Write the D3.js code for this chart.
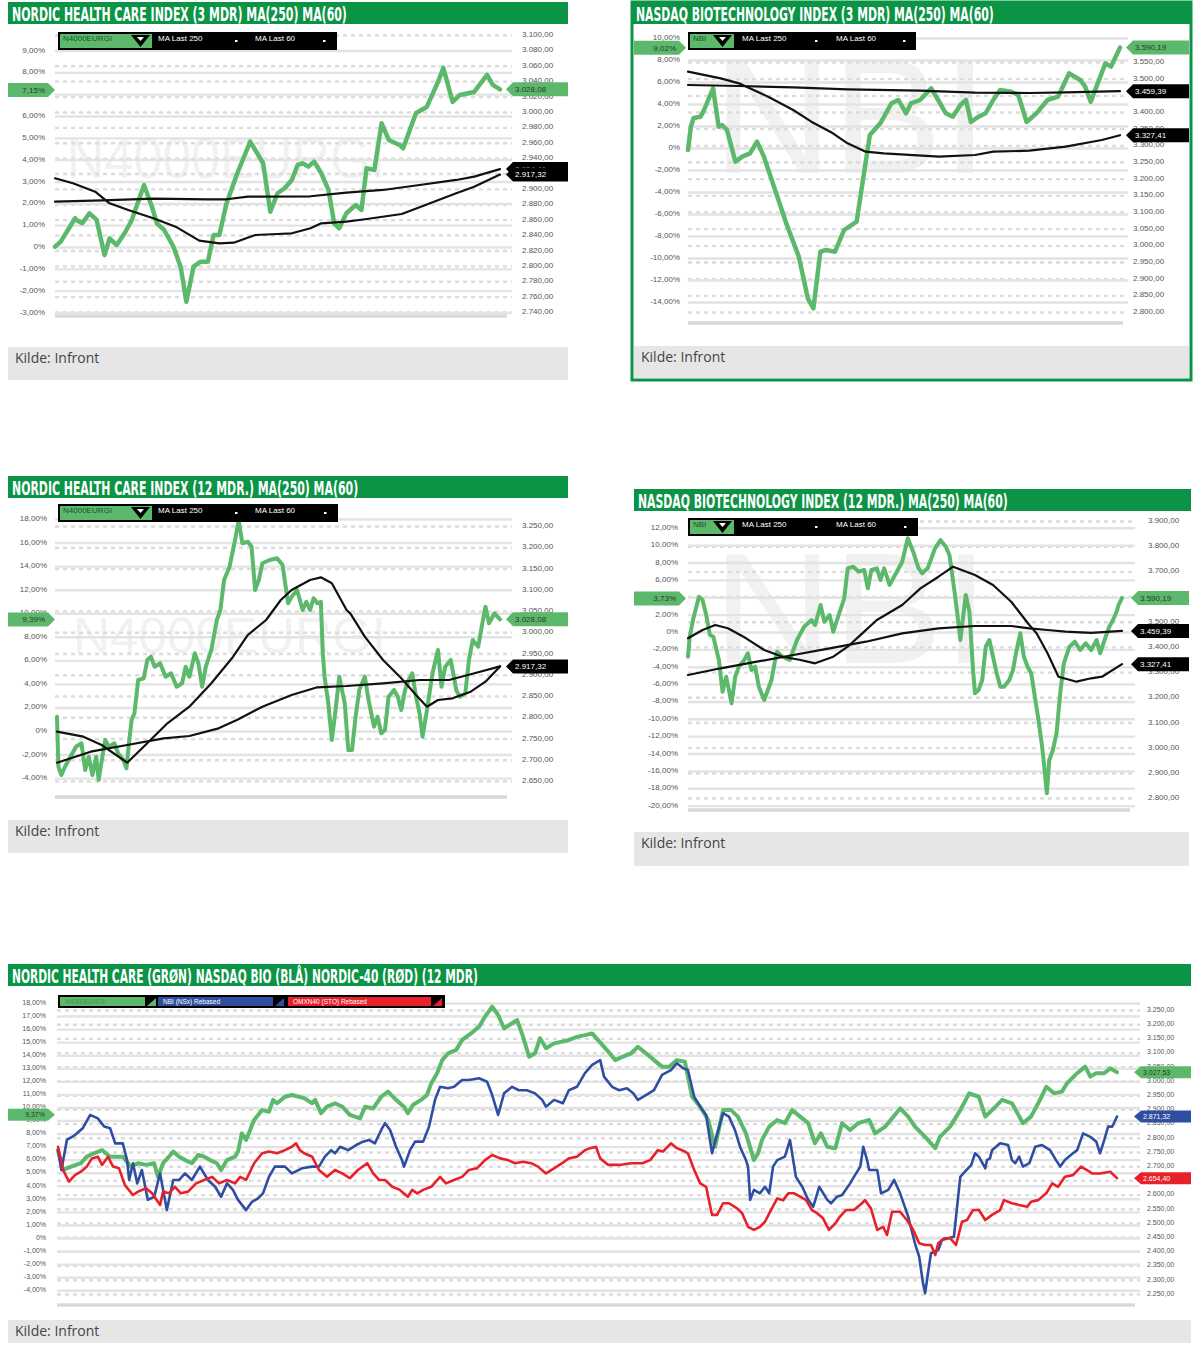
<!DOCTYPE html>
<meta charset="utf-8">
<style>
body{margin:0;background:#fff;}
text{font-family:"Liberation Sans",Arial,sans-serif;}
.title{font-family:"DejaVu Sans Condensed","DejaVu Sans",sans-serif;font-weight:bold;fill:#fff;font-size:20px;}
.kilde{font-family:"Open Sans",sans-serif;font-size:14px;fill:#444;}
</style>
<body>
<script src="https://d3js.org/d3.v7.min.js"></script>
<script>

// ---- Nordic Health Care, 3 mdr ([handelsdag, kurs]) ----
var nhc3mIndex=[[0,2823.6],[0.8,2830.1],[1.8,2845.3],[2.8,2860.5],[3,2858.3],[3.8,2854],[4.8,2867],[5.8,2858.3],[6.9,2812.8],[7.6,2834.5],[8.6,2825.8],[9.7,2841],[10.7,2858.3],[12.4,2903.8],[13.5,2875.6],[14.2,2854],[15.2,2845.3],[16.5,2823.6],[17.5,2797.6],[18.3,2752.1],[19.3,2797.6],[20.3,2804.1],[21.3,2804.1],[22.1,2838.8],[22.9,2838.8],[23.9,2880],[25.4,2919],[27.2,2960.1],[29,2932],[30,2869.1],[31,2893],[32,2899.5],[33,2910.3],[33.8,2929.8],[34.5,2932],[35.3,2927.6],[36.1,2934.1],[37.1,2919],[38.1,2897.3],[38.9,2854],[39.6,2847.5],[40.6,2867],[41.9,2877.8],[42.7,2871.3],[43.4,2925.5],[44.5,2923.3],[45.5,2984],[46.5,2962.3],[48,2955.8],[48.5,2951.5],[50.3,2997.4],[51.8,3005.2],[53.3,3036.4],[54.1,3055.9],[55.4,3011.7],[56.4,3020.8],[58.4,3024.7],[60.2,3046.8],[61,3033.8],[62,3028.08]];
var nhc3mMa250=[[0,2882.1],[6.6,2883.9],[13.7,2886],[21.3,2885.2],[23.9,2885.2],[26.9,2888.6],[35.6,2889.1],[40.6,2893.8],[45.7,2897.3],[50.8,2903.8],[55.9,2910.3],[58.4,2914.6],[62,2924.41]];
var nhc3mMa60=[[0,2912.5],[2.5,2906],[5.6,2895.1],[7.6,2880],[10.2,2871.3],[13.7,2860.5],[16.8,2849.6],[20.1,2831.4],[22.9,2828],[24.9,2828.8],[27.9,2838.8],[31,2840.1],[33,2841],[35.6,2847.5],[37.1,2854],[40.6,2856.1],[43.2,2859.2],[48.3,2866.1],[50.8,2874.8],[55.9,2893],[58.4,2901.6],[62,2917.32]];
var nhc3mPctTicks=[-3,-2,-1,0,1,2,3,4,5,6,7,8,9];
var nhc3mKursTicks=[2740,2760,2780,2800,2820,2840,2860,2880,2900,2920,2940,2960,2980,3000,3020,3040,3060,3080,3100];
var nhc3mLastPct=[7.15];
var nhc3mLastKurs=[3028.08,2924.41,2917.32];

// ---- Nasdaq Biotechnology, 3 mdr ----
var nbi3mIndex=[[0,3283],[0.4,3352],[0.8,3379],[1.8,3383],[2.3,3403],[3.6,3468],[4.4,3353],[4.9,3358],[5.6,3343],[6.8,3248],[7.8,3263],[8.9,3273],[9.9,3308],[10.9,3263],[12.5,3163],[14.1,3063],[15.9,2963],[17.2,2838],[18,2808],[19,2978],[19.8,2983],[21.1,2978],[22.4,3043],[24.2,3068],[25,3178],[26.1,3328],[27.6,3363],[29.2,3423],[30.2,3433],[31.3,3393],[32,3423],[33.3,3433],[34.9,3468],[35.9,3433],[37,3393],[38,3383],[39.1,3418],[39.9,3433],[40.6,3367],[41.7,3383],[42.7,3393],[43.8,3433],[44.8,3463],[46.4,3458],[47.4,3448],[48.6,3367],[50,3393],[51.6,3433],[53.1,3443],[54.7,3513],[56.3,3493],[57,3473],[57.8,3428],[58.9,3488],[59.9,3543],[60.7,3533],[62,3590.19]];
var nbi3mMa250=[[0,3478],[7.3,3475],[15.1,3471],[22.9,3465],[33.3,3461],[41.2,3455],[49,3454],[54.2,3456],[62,3459.39]];
var nbi3mMa60=[[0,3518],[4.7,3498],[7.3,3483],[11.5,3443],[15.1,3403],[17.7,3368],[20.8,3333],[22.9,3303],[25.5,3278],[28.1,3273],[36,3263],[41.2,3268],[43.8,3278],[49,3281],[54.2,3293],[59.4,3313],[62,3327.41]];
var nbi3mPctTicks=[-14,-12,-10,-8,-6,-4,-2,0,2,4,6,8,10];
var nbi3mKursTicks=[2800,2850,2900,2950,3000,3050,3100,3150,3200,3250,3300,3350,3400,3450,3500,3550];
var nbi3mLastPct=[9.02];
var nbi3mLastKurs=[3590.19,3459.39,3327.41];

// ---- Nordic Health Care, 12 mdr ----
var nhc12mIndex=[[0,2798.9],[0.8,2681.3],[2.5,2661.8],[4.5,2681.3],[7.6,2704.8],[10.7,2728.4],[13.8,2736.4],[15.9,2673.5],[17.9,2704.8],[20,2661.8],[22.1,2704.8],[23.5,2650],[26.2,2720.6],[27.2,2744.1],[29.3,2728.4],[32.4,2736.4],[34.5,2712.8],[37.5,2697.1],[39.2,2677.5],[40.6,2736.4],[42.1,2791.2],[43.7,2806.9],[45.8,2885.3],[48.9,2889.3],[51,2932.4],[53,2940.1],[55.1,2916.6],[58.2,2924.6],[61.3,2893.1],[64.4,2901.1],[67.5,2869.5],[70.6,2877.5],[72.6,2916.6],[74.7,2893.1],[77.8,2948.1],[79.8,2924.6],[81.9,2869.5],[84,2916.6],[87.1,2955.9],[90.2,3026.5],[92.2,3050],[94.3,3120.6],[97.4,3151.9],[100.5,3214.7],[102.5,3261.8],[104.6,3207],[107.7,3210.7],[109.8,3198.9],[111.8,3097.1],[113.9,3120.6],[115.9,3159.9],[120.1,3167.7],[124.2,3171.7],[127.3,3155.9],[130.4,3065.8],[132.4,3081.3],[135.5,3097.1],[138.6,3050],[140.7,3069.5],[142.8,3050],[144.8,3077.5],[146.9,3065.8],[148.9,3069.5],[150,2948.1],[151,2893.1],[153.1,2830.5],[155.1,2744.1],[157.2,2814.7],[159.3,2893.1],[162.4,2830.5],[164.4,2720.6],[166.5,2720.6],[168.5,2798.9],[170.6,2861.8],[173.7,2893.1],[175.8,2838.2],[178.9,2775.4],[180.9,2798.9],[183,2759.9],[185.1,2767.7],[187.1,2846],[190.2,2861.8],[192.3,2846],[194.3,2814.7],[196.4,2861.8],[198.5,2885.3],[200.5,2901.1],[202.6,2846],[204.6,2806.9],[206.3,2751.9],[208.8,2814.7],[211.9,2901.1],[215,2955.9],[217,2869.5],[219.1,2916.6],[222.2,2932.4],[225.3,2861.8],[227.3,2846],[230.4,2854],[232.5,2932.4],[234.6,2979.4],[237.7,2963.7],[239.7,3010.7],[241.8,3057.8],[243.8,3018.7],[246.9,3042.2],[250,3028.08]];
var nhc12mMa250=[[0,2690.7],[19,2716.6],[39.6,2732.4],[60.2,2748.1],[74.7,2753.5],[91.2,2771.6],[101.5,2791.2],[115.9,2822.5],[132.4,2850],[146.9,2868.1],[163.4,2871.2],[184,2877.5],[204.6,2885.3],[221.2,2885.3],[235.6,2901.1],[250,2917.32]];
var nhc12mMa60=[[0,2763.7],[14.9,2751.9],[25.2,2732.4],[39.6,2690.7],[49.9,2732.4],[62.3,2783.4],[74.7,2822.5],[87.1,2877.5],[99.4,2940.1],[107.7,2991.2],[118,3026.5],[126.3,3073.5],[132.4,3097.1],[142.8,3120.6],[148.9,3126.9],[155.1,3112.8],[163.4,3050],[165.5,3042.2],[173.7,2987.2],[184,2932.4],[194.3,2889.3],[202.6,2850],[208.8,2822.5],[215,2838.2],[223.2,2842.2],[233.5,2857.8],[241.8,2881.3],[250,2917.32]];
var nhc12mPctTicks=[-4,-2,0,2,4,6,8,10,12,14,16,18];
var nhc12mKursTicks=[2650,2700,2750,2800,2850,2900,2950,3000,3050,3100,3150,3200,3250];
var nhc12mLastPct=[9.39];
var nhc12mLastKurs=[3028.08,2917.32];

// ---- Nasdaq Biotechnology, 12 mdr ----
var nbi12mIndex=[[0,3357.1],[1,3436.6],[3.1,3509.6],[6.3,3595.4],[8.4,3582.3],[10.5,3522.7],[12.6,3443.3],[14.6,3436.6],[17.8,3344],[19.9,3218.1],[22,3277.7],[25.1,3172.1],[27.2,3277.7],[29.3,3317.4],[32.4,3344],[34.5,3370.6],[36.6,3304.3],[38.7,3317.4],[40.8,3238],[43.9,3185.2],[46,3224.9],[48.1,3264.6],[50.2,3344],[51.3,3377],[54.4,3357.1],[58.6,3344],[62.8,3423.4],[66.9,3476.3],[71.1,3502.9],[73.2,3483],[76.4,3562.4],[78.5,3496.1],[81.6,3522.7],[83.7,3456.4],[86.8,3522.7],[90,3589],[92,3708.2],[95.2,3714.5],[98.3,3694.7],[101.5,3701.4],[103.6,3628.7],[105.6,3701.4],[108.8,3708.2],[110.9,3661.7],[113,3708.2],[116.1,3641.9],[120.3,3694.7],[123.4,3734.4],[126.6,3827.3],[129.7,3774.1],[132.8,3708.2],[134.9,3688.3],[138.1,3708.2],[142.3,3787.6],[145.4,3820.5],[148.5,3793.9],[150.6,3761],[153.8,3602.1],[155.9,3483],[156.9,3423.4],[160,3602.1],[162.1,3535.8],[164.2,3304.3],[165.3,3211.8],[167.4,3224.9],[169.5,3264.6],[171.5,3396.8],[173.6,3423.4],[175.7,3357.1],[177.8,3291.2],[179.9,3238],[182,3238],[185.1,3264.6],[187.2,3304.3],[189.3,3383.7],[191.4,3450],[193.5,3357.1],[195.6,3317.4],[197.7,3291.2],[199.8,3198.3],[201.9,3105.8],[204,2999.7],[205.4,2907.2],[206.7,2814.7],[208.1,2946.9],[210.2,2986.6],[212.3,3053],[214.4,3211.8],[216.5,3330.9],[219.7,3396.8],[222.8,3416.7],[225.9,3383.7],[229.1,3410.3],[232.2,3383.7],[235.4,3423.4],[237.4,3370.6],[240.6,3436.6],[242.7,3476.3],[244.8,3502.9],[246.9,3535.8],[248,3562.4],[250,3590.19]];
var nbi12mMa250=[[0,3284.5],[18.8,3311.1],[39.7,3337.3],[60.7,3363.9],[81.6,3390.5],[102.5,3416.7],[123.4,3450],[144.3,3469.9],[165.3,3479],[186.2,3479],[196.6,3469.9],[207.1,3463.2],[217.6,3456.4],[232.2,3452],[250,3459.39]];
var nbi12mMa60=[[0,3430.2],[8.4,3463.2],[15.7,3483],[23,3469.9],[33.5,3430.2],[43.9,3383.7],[54.4,3357.1],[64.9,3344],[73.2,3330.9],[83.7,3357.1],[92,3396.8],[100.4,3450],[108.8,3502.9],[123.4,3562.4],[133.9,3628.7],[144.3,3674.8],[152.7,3714.5],[165.3,3681.6],[175.7,3641.9],[186.2,3575.5],[196.6,3483],[200.8,3450],[207.1,3370.6],[213.4,3277.7],[223.8,3257.9],[232.2,3271.4],[238.5,3277.7],[250,3327.41]];
var nbi12mPctTicks=[-20,-18,-16,-14,-12,-10,-8,-6,-4,-2,0,2,4,6,8,10,12];
var nbi12mKursTicks=[2800,2900,3000,3100,3200,3300,3400,3500,3600,3700,3800,3900];
var nbi12mLastPct=[3.73];
var nbi12mLastKurs=[3590.19,3459.39,3327.41];

// ---- Sammenligning 12 mdr (rebased) ----
var cmpNhc=[[0,2753],[1.2,2683],[3.1,2695],[5.4,2707],[6.8,2730],[8.5,2742],[10.4,2753],[12.3,2730],[13.5,2730],[15.3,2730],[17.2,2695],[18.9,2707],[20.8,2701],[22.7,2707],[23.6,2659],[24.8,2707],[26.2,2730],[27.2,2748],[28.6,2730],[30,2718],[31.6,2707],[33.1,2736],[34.5,2730],[35.9,2718],[37.5,2707],[38.5,2683],[39.9,2718],[41.8,2730],[42.5,2748],[43.4,2812],[44.4,2789],[46.3,2859],[48.2,2894],[49.8,2888],[50.8,2930],[51.7,2918],[53.6,2941],[55.2,2947],[58.1,2936],[60,2918],[60.7,2930],[62.1,2883],[63.5,2906],[65.4,2918],[67.1,2906],[68.9,2877],[71.3,2865],[72.5,2906],[74.4,2900],[76.3,2941],[77.9,2959],[79.8,2930],[81.7,2906],[82.6,2883],[83.8,2912],[85.7,2930],[87.1,2947],[88.1,2988],[89.5,3024],[90.7,3070],[92.1,3094],[94,3106],[95.4,3141],[97.5,3164],[99.4,3188],[100.8,3223],[102.5,3258],[103.9,3229],[105.3,3182],[107.2,3200],[108.4,3211],[109.8,3152],[111.2,3082],[112.6,3094],[113.8,3147],[115.2,3112],[117.1,3129],[119,3135],[120.6,3141],[122.5,3152],[124.4,3158],[126.1,3164],[129.9,3100],[131.5,3070],[133.4,3082],[135.3,3094],[136.9,3117],[138.8,3094],[140.7,3070],[142.6,3047],[144.3,3047],[146.1,3070],[148,3064],[149.7,2941],[151.6,2906],[153.5,2859],[155.1,2765],[157,2894],[158.9,2894],[160.5,2871],[162.4,2812],[164.3,2718],[165.3,2743],[166.2,2789],[167.9,2836],[169.8,2859],[171.6,2848],[173.3,2894],[175.2,2871],[177.1,2848],[178.7,2777],[180.1,2812],[181.6,2765],[183.5,2760],[185.1,2848],[187,2824],[188.9,2848],[191.5,2859],[192.9,2812],[195.3,2836],[197.2,2871],[198.8,2900],[200.7,2871],[202.3,2836],[204.7,2800],[207.1,2760],[208.2,2800],[210.6,2836],[213,2894],[215.1,2953],[217.4,2941],[218.9,2871],[220.5,2894],[222.9,2930],[225.2,2918],[227.8,2848],[229.7,2871],[231.4,2918],[233.3,2976],[235.2,2953],[237,2959],[238.2,2988],[240.6,3024],[242.5,3047],[243.7,3012],[245.1,3024],[247,3024],[248.4,3041],[250,3027.53]];
var cmpNbi=[[0,2753],[0.8,2683],[2.1,2789],[4,2806],[5.9,2831],[7.6,2877],[9.4,2865],[10.9,2836],[12.3,2830],[13.5,2777],[15.3,2777],[16.3,2718],[16.8,2648],[17.7,2707],[18.7,2636],[19.8,2683],[21.2,2578],[22.7,2589],[24.1,2671],[25.7,2542],[27.2,2648],[28.6,2648],[30,2671],[31.6,2648],[33.5,2695],[35.4,2648],[37.1,2624],[38.5,2589],[39.9,2636],[41.3,2613],[42.5,2578],[44.4,2542],[45.8,2571],[47.2,2583],[48.4,2601],[49.8,2659],[51.2,2695],[53.6,2695],[55.2,2671],[57.6,2689],[60,2695],[61.6,2695],[63,2730],[64.5,2753],[65.4,2742],[66.6,2765],[68.5,2753],[70.4,2771],[72,2783],[73.4,2789],[74.8,2777],[76.3,2824],[77.2,2848],[78.4,2824],[79.8,2765],[81.2,2718],[81.7,2695],[83.1,2753],[84.3,2783],[86.2,2783],[87.6,2836],[89,2930],[90.2,2976],[92.1,2971],[93.5,2976],[95.4,3000],[97,3000],[99.4,3006],[101.3,2994],[102.5,2947],[103.9,2877],[105.3,2953],[107.2,2976],[108.8,2964],[110.7,2964],[112.6,2953],[114.3,2930],[115.2,2906],[117.1,2930],[119.2,2918],[120.6,2964],[122.5,2976],[124.4,3024],[126.1,3053],[128,3070],[128.9,3012],[130.8,2976],[132.5,2964],[134.3,2971],[135.8,2953],[136.9,2930],[138.8,2947],[140.7,2964],[142.6,3018],[144.7,3035],[146.1,3059],[147.6,3041],[148.7,3035],[150.2,2941],[151.6,2906],[153,2877],[154.4,2742],[155.1,2783],[157,2883],[158.4,2871],[159.8,2824],[161,2765],[162.4,2718],[162.9,2695],[163.4,2578],[164.3,2613],[165.7,2601],[166.9,2624],[167.9,2601],[168.8,2695],[169.8,2718],[171.6,2730],[172.8,2789],[174.2,2659],[175.7,2624],[177.1,2578],[178.3,2554],[179.7,2624],[181.6,2578],[182.5,2566],[183.9,2589],[185.1,2595],[187,2636],[187.9,2659],[189.4,2695],[190.1,2765],[191,2718],[191.5,2683],[193.4,2683],[194.3,2601],[196,2613],[197.4,2648],[198.8,2601],[200.7,2519],[202.3,2425],[203.3,2378],[204.2,2284],[204.7,2249],[205.6,2343],[206.1,2390],[207.8,2401],[208.7,2437],[210.1,2443],[211.5,2448],[213,2659],[214.1,2677],[215.6,2701],[216.5,2742],[217.4,2730],[218.9,2689],[219.3,2718],[220,2724],[220.5,2753],[222.4,2777],[224.3,2771],[225.2,2718],[226,2707],[226.9,2730],[227.8,2695],[229.3,2707],[230.7,2765],[232.3,2771],[234.2,2753],[235.6,2718],[236.6,2695],[237.7,2718],[239.6,2742],[240.6,2753],[242,2812],[243.7,2800],[245.1,2783],[246,2742],[247,2789],[247.9,2836],[248.9,2836],[250,2871.32]];
var cmpOmx=[[0,2765],[1.2,2683],[2.6,2642],[4,2665],[5.4,2677],[6.8,2695],[8,2724],[9.4,2730],[10.4,2701],[11.8,2730],[13,2695],[14.4,2689],[15.8,2630],[17.7,2595],[18.9,2607],[20.8,2619],[22.2,2601],[24.1,2560],[24.8,2607],[26.2,2601],[27.6,2624],[29,2601],[30.7,2607],[32.6,2636],[34.5,2648],[36.4,2659],[38,2636],[39.9,2648],[41.8,2636],[43,2659],[44.4,2648],[46.3,2707],[48.2,2742],[49.8,2748],[51.7,2742],[53.6,2753],[55.2,2765],[56.2,2777],[57.1,2753],[58.1,2742],[60,2730],[61.6,2683],[63.5,2659],[65.4,2683],[67.1,2671],[68.9,2654],[70.8,2683],[73,2707],[74.4,2671],[75.8,2648],[77.2,2648],[78.9,2624],[80.7,2613],[82.6,2589],[83.6,2613],[84.8,2601],[86.2,2613],[88.1,2624],[90.2,2659],[91.6,2636],[93.5,2648],[95.4,2659],[97,2683],[98.9,2689],[100.8,2718],[102.5,2736],[104.4,2724],[106.2,2718],[107.9,2707],[109.8,2712],[111.7,2707],[113.3,2695],[115.2,2671],[117.1,2689],[119,2707],[120.6,2724],[122.5,2730],[124.4,2753],[125.6,2760],[127,2765],[128,2724],[129.9,2701],[132.5,2701],[135.3,2707],[137.9,2707],[139.8,2718],[141.6,2753],[142.8,2748],[144.7,2777],[146.1,2760],[148,2748],[148.7,2742],[150.2,2683],[151.6,2636],[153,2624],[154.4,2525],[155.6,2525],[157,2566],[158.4,2566],[160.3,2548],[161.5,2531],[162.9,2483],[164.3,2472],[165.7,2483],[166.9,2501],[168.3,2542],[169.8,2583],[171.2,2577],[172.4,2601],[173.8,2601],[175.2,2589],[176.6,2577],[178,2542],[179.2,2531],[180.6,2513],[182,2472],[183.5,2495],[184.6,2519],[186,2542],[187.9,2542],[189.8,2566],[190.5,2577],[191.9,2548],[193.4,2472],[194.8,2483],[195.7,2454],[196.9,2536],[198.8,2536],[200.7,2501],[201.9,2472],[203.3,2425],[204.7,2419],[206.1,2419],[207.1,2384],[207.8,2425],[209.2,2443],[210.6,2443],[212,2419],[213.4,2501],[214.6,2507],[216,2542],[217.4,2542],[218.9,2507],[220.5,2525],[222.4,2542],[223.3,2577],[225.2,2566],[226.9,2560],[228.8,2554],[229.7,2571],[231.4,2577],[233.3,2601],[234.7,2636],[236.1,2624],[237.7,2659],[239.6,2665],[241.5,2695],[242.9,2683],[244.1,2671],[246,2671],[248.4,2677],[250,2654.4]];
var cmpPctTicks=[-4,-3,-2,-1,0,1,2,3,4,5,6,7,8,9,10,11,12,13,14,15,16,17,18];
var cmpKursTicks=[2250,2300,2350,2400,2450,2500,2550,2600,2650,2700,2750,2800,2850,2900,2950,3000,3050,3100,3150,3200,3250];
var cmpLastPct=[9.37];
var cmpLastKurs=[3027.53,2871.32,2654.40];
var cmpNames=["N4000EURGI","NBI (NSx) Rebased","OMXN40 (STO) Rebased"];

var HDR="#0b9446", GRN="#5cb96b", BLU="#2f4ea1", RED="#e8202a";

var svg=d3.select("body").append("svg").attr("width",1200).attr("height",1350);

var no=d3.formatLocale({decimal:",",thousands:".",grouping:[3],currency:["",""],minus:"-"});
var fKurs=no.format(",.2f");
var fPct=function(p){ return p===0 ? "0%" : no.format(".2f")(p)+"%"; };

// squeeze a text horizontally to a given width (condensed look)
function fitText(t,x,y,w){
	var n=t.node().getComputedTextLength();
	t.attr("transform","translate("+x+","+y+") scale("+(w/n)+",1)");
}

function tagL(g,x0,x1,y,h,fill,tc,label,fs){
	g.append("path").attr("d","M"+x0+","+(y-h/2)+"H"+(x1-7)+"L"+x1+","+y+"L"+(x1-7)+","+(y+h/2)+"H"+x0+"Z").attr("fill",fill);
	g.append("text").attr("x",x1-10).attr("y",y).attr("dy","0.35em").attr("text-anchor","end")
		.attr("font-size",fs).attr("fill",tc).text(label);
}
function tagR(g,x0,x1,y,h,fill,tc,label,fs){
	g.append("path").attr("d","M"+x0+","+y+"L"+(x0+7)+","+(y-h/2)+"H"+x1+"V"+(y+h/2)+"H"+(x0+7)+"Z").attr("fill",fill);
	g.append("text").attr("x",x0+9).attr("y",y).attr("dy","0.35em")
		.attr("font-size",fs).attr("fill",tc).text(label);
}

function legendA(g,L){
	g.append("rect").attr("x",L.x).attr("y",L.y).attr("width",L.w).attr("height",L.h).attr("fill","#000");
	g.append("rect").attr("x",L.x+2).attr("y",L.y+2).attr("width",L.keyW).attr("height",L.h-4).attr("fill",GRN);
	g.append("text").attr("x",L.x+5).attr("y",L.y+9).attr("font-size",8).attr("fill","#1f4f2b").text(L.key);
	var tx=L.x+2+L.keyW-21;
	g.append("path").attr("d","M"+tx+","+(L.y+3)+"h19l-9.5,"+(L.h-6)+"z").attr("fill","#000");
	g.append("path").attr("d","M"+(tx+6)+","+(L.y+5)+"h7l-3.5,4z").attr("fill","#fff");
	L.labels.forEach(function(s,i){
		g.append("text").attr("x",L.x+L.lx[i]).attr("y",L.y+9).attr("font-size",8).attr("fill","#fff").text(s);
		g.append("rect").attr("x",L.x+L.dx[i]).attr("y",L.y+8).attr("width",2.5).attr("height",2).attr("fill","#fff");
	});
}
function legendB(g,L){
	g.append("rect").attr("x",L.x).attr("y",L.y).attr("width",L.w).attr("height",L.h).attr("fill","#000");
	L.keys.forEach(function(k){
		g.append("rect").attr("x",L.x+k.x).attr("y",L.y+2).attr("width",k.w-12).attr("height",L.h-4).attr("fill",k.fill);
		g.append("path").attr("d","M"+(L.x+k.x+k.w-10)+","+(L.y+L.h-2)+"l9,-8v8z").attr("fill",k.fill);
		g.append("text").attr("x",L.x+k.x+5).attr("y",L.y+L.h/2).attr("dy","0.35em").attr("font-size",6.5)
			.attr("fill",k.tc).text(k.label);
	});
}

function panel(c){
	var g=svg.append("g");
	var x=d3.scaleLinear().domain([0,c.days]).range([c.px0,c.px1]);
	var yL=d3.scaleLinear().domain(c.pctDom).range(c.pctRng);
	var yR=d3.scaleLinear().domain(c.kursDom).range(c.kursRng);

	if(c.border) g.append("rect").attr("x",c.hx0).attr("y",c.hy).attr("width",c.hx1-c.hx0).attr("height",c.by1-c.hy)
		.attr("fill","none").attr("stroke",HDR).attr("stroke-width",3);
	g.append("rect").attr("x",c.hx0).attr("y",c.hy).attr("width",c.hx1-c.hx0).attr("height",22).attr("fill",HDR);
	fitText(g.append("text").attr("class","title").text(c.title),c.hx0+4,c.hy+19,c.titleW);

	if(c.wm) fitText(g.append("text").attr("font-size",c.wm.size).attr("fill","#f1f1f1").text(c.wm.text),c.wm.x,c.wm.y,c.wm.len);

	g.append("g").selectAll("line").data(c.kursTicks).join("line")
		.attr("x1",c.gx0).attr("x2",c.gx1).attr("y1",function(d){return yR(d)+1.5;}).attr("y2",function(d){return yR(d)+1.5;})
		.attr("stroke","#dcdcdc").attr("stroke-width",2.4).attr("stroke-dasharray","4,4");
	g.append("g").selectAll("line").data(c.pctTicks).join("line")
		.attr("x1",c.gx0).attr("x2",c.gx1).attr("y1",function(d){return yL(d)+1.5;}).attr("y2",function(d){return yL(d)+1.5;})
		.attr("stroke","#e3e3e3").attr("stroke-width",2.4);
	g.append("line").attr("x1",c.gx0).attr("x2",c.gx1-5).attr("y1",c.base).attr("y2",c.base)
		.attr("stroke","#d9d9d9").attr("stroke-width",3.5);

	var aL=g.append("g").attr("transform","translate("+c.lx+",0)")
		.call(d3.axisLeft(yL).tickValues(c.pctTicks).tickFormat(fPct).tickSize(0).tickPadding(0));
	var aR=g.append("g").attr("transform","translate("+c.rx+",0)")
		.call(d3.axisRight(yR).tickValues(c.kursTicks).tickFormat(fKurs).tickSize(0).tickPadding(0));
	[aL,aR].forEach(function(a){
		a.select(".domain").remove();
		a.attr("font-family","'Liberation Sans',Arial,sans-serif").attr("font-size",c.fs);
		a.selectAll("text").attr("fill","#555");
	});

	var line=d3.line().x(function(d){return x(d[0]);}).y(function(d){return yR(d[1]);});
	c.series.forEach(function(s){
		g.append("path").datum(s.data).attr("d",line).attr("fill","none").attr("stroke",s.color)
			.attr("stroke-width",s.w).attr("stroke-linejoin","round").attr("stroke-linecap","round");
	});

	if(c.legend.type==="A") legendA(g,c.legend); else legendB(g,c.legend);

	g.append("rect").attr("x",c.band[0]).attr("y",c.band[1]).attr("width",c.band[2]-c.band[0]).attr("height",c.band[3]-c.band[1]).attr("fill","#e6e6e6");
	g.append("text").attr("class","kilde").attr("x",c.band[0]+7).attr("y",c.band[1]+16).text("Kilde: Infront");

	c.lastPct.forEach(function(p){ tagL(g,c.tagL[0],c.tagL[1],yL(p),c.th,GRN,"#333",fPct(p),c.fs); });
	c.lastKurs.forEach(function(v,i){
		var f=c.tagFill[i], tc=(f===GRN)?"#333":"#fff";
		tagR(g,c.tagR[0],c.tagR[1],yR(v),c.th,f,tc,fKurs(v),c.fs);
	});
}

panel({hx0:8,hx1:568,hy:2,title:"NORDIC HEALTH CARE INDEX (3 MDR) MA(250) MA(60)",titleW:335,
	days:62,px0:55,px1:500,gx0:55,gx1:512,base:316,
	pctDom:[-3,9],pctRng:[311.5,49.5],kursDom:[2740,3100],kursRng:[311,34],
	pctTicks:nhc3mPctTicks,kursTicks:nhc3mKursTicks,lx:45,rx:522,fs:8,
	wm:{text:"N4000EURGI",x:67,y:178,size:58,len:318},
	series:[{data:nhc3mIndex,color:GRN,w:4.5},{data:nhc3mMa250,color:"#111",w:2.2},{data:nhc3mMa60,color:"#111",w:2.2}],
	legend:{type:"A",x:58,y:32,w:279,h:18,keyW:92,key:"N4000EURGI",labels:["MA Last 250","MA Last 60"],lx:[100,197],dx:[177,265]},
	band:[8,347,568,380],
	lastPct:nhc3mLastPct,lastKurs:nhc3mLastKurs,tagFill:[GRN,"#000","#000"],tagL:[8,55],tagR:[506,568],th:14});

panel({hx0:632,hx1:1191,hy:2,by1:380,border:true,title:"NASDAQ BIOTECHNOLOGY INDEX (3 MDR) MA(250) MA(60)",titleW:358,
	days:62,px0:688,px1:1120,gx0:688,gx1:1128,base:323,
	pctDom:[-14,10],pctRng:[301,37],kursDom:[2800,3550],kursRng:[311,61],
	pctTicks:nbi3mPctTicks,kursTicks:nbi3mKursTicks,lx:680,rx:1133,fs:8,
	wm:{text:"NBI",x:713,y:173,size:163,len:275},
	series:[{data:nbi3mIndex,color:GRN,w:4.5},{data:nbi3mMa250,color:"#111",w:2.2},{data:nbi3mMa60,color:"#111",w:2.2}],
	legend:{type:"A",x:688,y:32,w:228,h:18,keyW:44,key:"NBI",labels:["MA Last 250","MA Last 60"],lx:[54,148],dx:[127,215]},
	band:[634,346,1189,378],
	lastPct:nbi3mLastPct,lastKurs:nbi3mLastKurs,tagFill:[GRN,"#000","#000"],tagL:[634,686],tagR:[1126,1189],th:14});

panel({hx0:8,hx1:568,hy:476,title:"NORDIC HEALTH CARE INDEX (12 MDR.) MA(250) MA(60)",titleW:346,
	days:250,px0:57,px1:500,gx0:55,gx1:512,base:797,
	pctDom:[-4,18],pctRng:[777.1,518],kursDom:[2650,3250],kursRng:[780,525],
	pctTicks:nhc12mPctTicks,kursTicks:nhc12mKursTicks,lx:47,rx:522,fs:8,
	wm:{text:"N4000EURGI",x:73,y:653,size:50,len:313},
	series:[{data:nhc12mIndex,color:GRN,w:4},{data:nhc12mMa250,color:"#111",w:2.2},{data:nhc12mMa60,color:"#111",w:2.2}],
	legend:{type:"A",x:58,y:504,w:280,h:18,keyW:92,key:"N4000EURGI",labels:["MA Last 250","MA Last 60"],lx:[100,197],dx:[177,266]},
	band:[8,820,568,853],
	lastPct:nhc12mLastPct,lastKurs:nhc12mLastKurs,tagFill:[GRN,"#000"],tagL:[8,55],tagR:[506,568],th:14});

panel({hx0:634,hx1:1191,hy:489,title:"NASDAQ BIOTECHNOLOGY INDEX (12 MDR.) MA(250) MA(60)",titleW:370,
	days:250,px0:688,px1:1122,gx0:688,gx1:1135,base:810,
	pctDom:[-20,12],pctRng:[804.6,526.8],kursDom:[2800,3900],kursRng:[797,520],
	pctTicks:nbi12mPctTicks,kursTicks:nbi12mKursTicks,lx:678,rx:1148,fs:8,
	wm:{text:"NBI",x:713,y:663,size:158,len:276},
	series:[{data:nbi12mIndex,color:GRN,w:4},{data:nbi12mMa250,color:"#111",w:2.2},{data:nbi12mMa60,color:"#111",w:2.2}],
	legend:{type:"A",x:688,y:518,w:230,h:18,keyW:44,key:"NBI",labels:["MA Last 250","MA Last 60"],lx:[54,148],dx:[127,216]},
	band:[634,832,1189,866],
	lastPct:nbi12mLastPct,lastKurs:nbi12mLastKurs,tagFill:[GRN,"#000","#000"],tagL:[634,686],tagR:[1131,1189],th:14});

panel({hx0:8,hx1:1191,hy:964,title:"NORDIC HEALTH CARE (GRØN) NASDAQ BIO (BLÅ) NORDIC-40 (RØD) (12 MDR)",titleW:466,
	days:250,px0:58,px1:1117,gx0:57,gx1:1140,base:1305,
	pctDom:[-4,18],pctRng:[1289.2,1002],kursDom:[2250,3250],kursRng:[1293,1009],
	pctTicks:cmpPctTicks,kursTicks:cmpKursTicks,lx:46,rx:1147,fs:7,
	wm:null,
	series:[{data:cmpNhc,color:GRN,w:4},{data:cmpNbi,color:BLU,w:2.6},{data:cmpOmx,color:RED,w:2.6}],
	legend:{type:"B",x:58,y:995,w:387,h:13,keys:[
		{label:cmpNames[0],fill:GRN,tc:"#3f8f4f",x:2,w:97},
		{label:cmpNames[1],fill:BLU,tc:"#fff",x:100,w:127},
		{label:cmpNames[2],fill:RED,tc:"#fff",x:230,w:155}]},
	band:[8,1320,1191,1343],
	lastPct:cmpLastPct,lastKurs:cmpLastKurs,tagFill:[GRN,BLU,RED],tagL:[8,55],tagR:[1134,1191],th:12});

</script>
</body>
</html>
